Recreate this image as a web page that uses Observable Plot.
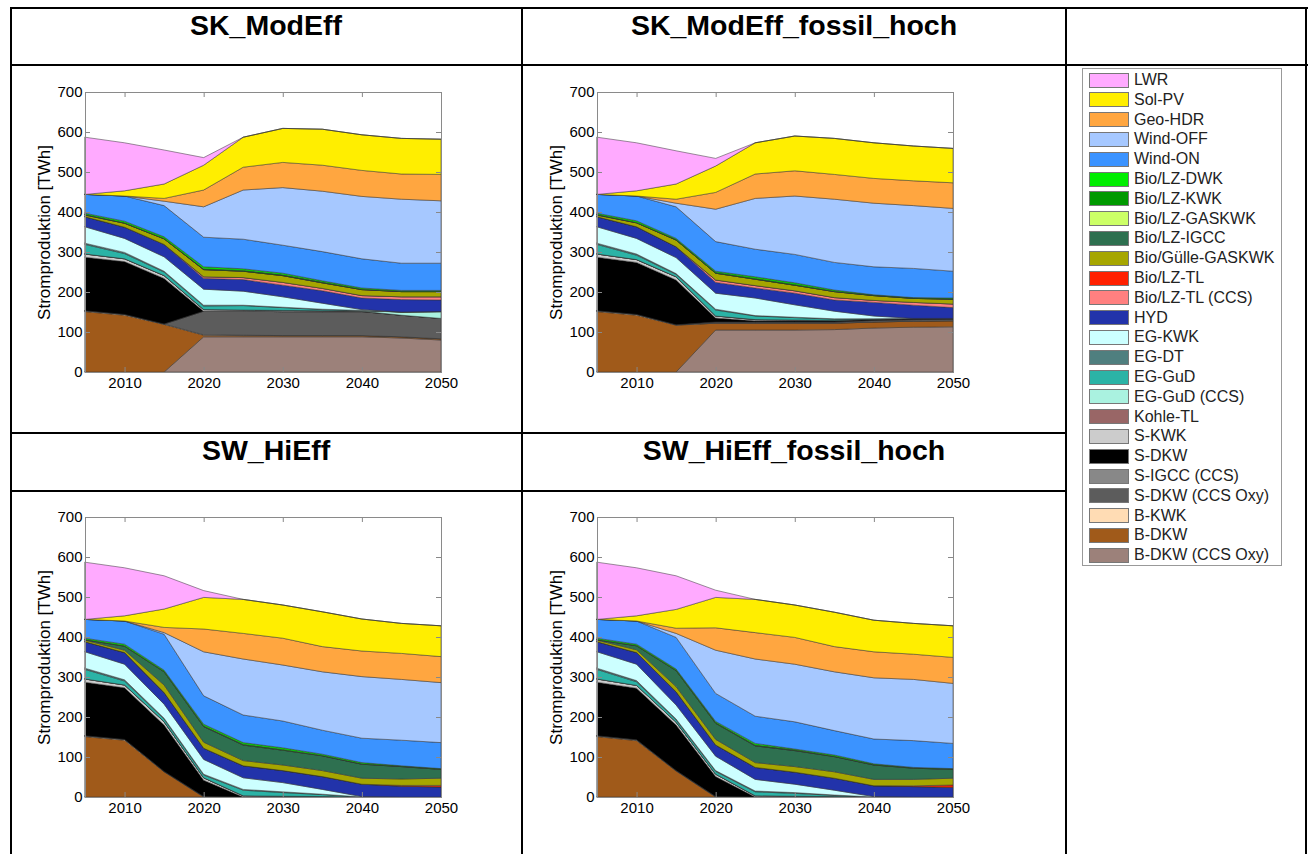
<!DOCTYPE html>
<html><head><meta charset="utf-8">
<script src="https://cdn.jsdelivr.net/npm/d3@7"></script>
<script src="https://cdn.jsdelivr.net/npm/@observablehq/plot@0.6"></script>
<style>
body{margin:0;background:#fff;font-family:"Liberation Sans",Arial,sans-serif;}
#page{position:relative;width:1310px;height:854px;overflow:hidden;background:#fff;}
.hl{position:absolute;height:2px;background:#000;}
.vl{position:absolute;width:2px;background:#000;}
.title{position:absolute;font-weight:bold;font-size:28.5px;line-height:30px;text-align:center;color:#000;}
.chart{position:absolute;}
#legend{position:absolute;left:1082px;top:68px;width:200px;height:498px;border:1px solid #999;box-sizing:border-box;background:#fff;}
.item{position:absolute;left:6px;height:20px;display:flex;align-items:center;font-size:16px;color:#222;white-space:nowrap;}
.sw{width:38px;height:13px;border:1px solid #777;margin-right:5px;}
</style></head>
<body><div id="page"></div>
<script>
const years = [2005, 2010, 2015, 2020, 2025, 2030, 2035, 2040, 2045, 2050];
const xTicks = [2010, 2020, 2030, 2040, 2050];
const yTicks = [0, 100, 200, 300, 400, 500, 600, 700];
const yLabel = "Stromproduktion [TWh]";
const chartTitles = ["SK_ModEff", "SK_ModEff_fossil_hoch", "SW_HiEff", "SW_HiEff_fossil_hoch"];

// stacking order: bottom -> top
const seriesNames = [
  "B-DKW (CCS Oxy)", "B-DKW", "B-KWK", "S-DKW (CCS Oxy)", "S-IGCC (CCS)", "S-DKW", "S-KWK",
  "Kohle-TL", "EG-GuD (CCS)", "EG-GuD", "EG-DT", "EG-KWK", "HYD", "Bio/LZ-TL (CCS)", "Bio/LZ-TL",
  "Bio/Gülle-GASKWK", "Bio/LZ-IGCC", "Bio/LZ-GASKWK", "Bio/LZ-KWK", "Bio/LZ-DWK",
  "Wind-ON", "Wind-OFF", "Geo-HDR", "Sol-PV", "LWR"
];
const seriesColors = [
  "#9c817a", "#a05a1a", "#ffdcb4", "#5c5c5c", "#888888", "#000000", "#cccccc",
  "#996666", "#aaf2e0", "#2bb3a6", "#4f7f7f", "#ccffff", "#2233aa", "#ff8080", "#ff2000",
  "#a6a600", "#2e7050", "#ccff66", "#009900", "#00ee00",
  "#3b93ff", "#a6c8ff", "#ffa640", "#ffee00", "#ffaaff"
];

const zero = [0, 0, 0, 0, 0, 0, 0, 0, 0, 0];

// SK_ModEff
const skModEff = [
  [0, 0, 0, 88, 88, 88, 88, 88, 85, 80],
  [151, 142, 119, 4, 3, 3, 3, 3, 3, 3],
  [2, 2, 1, 1, 1, 0, 0, 0, 0, 0],
  [0, 0, 0, 59, 60, 60, 60, 60, 54, 51],
  zero,
  [134, 132, 114, 0, 0, 0, 0, 0, 0, 0],
  [8, 7, 7, 4, 3, 3, 2, 1, 0, 0],
  zero,
  [0, 0, 0, 0, 0, 0, 0, 1, 8, 17],
  [24, 13, 9, 9, 11, 7, 3, 1, 0, 0],
  [3, 3, 2, 2, 1, 1, 1, 0, 0, 0],
  [41, 35, 36, 40, 35, 26, 15, 2, 0, 0],
  [25, 28, 31, 27, 29, 29, 31, 29, 31, 29],
  [0, 0, 0, 4, 5, 7, 6, 6, 7, 8],
  zero,
  [4, 10, 14, 18, 16, 17, 14, 15, 13, 13],
  [1, 0, 0, 0, 0, 0, 0, 0, 0, 0],
  zero,
  [1, 1, 1, 2, 2, 2, 2, 1, 1, 1],
  [3, 4, 4, 5, 4, 4, 3, 3, 2, 2],
  [47, 63, 78, 74, 74, 70, 73, 73, 68, 68],
  [0, 0, 11, 76, 123, 144, 151, 156, 160, 156],
  [0, 0, 7, 42, 57, 63, 65, 65, 63, 66],
  [0, 13, 36, 62, 75, 85, 90, 89, 89, 88],
  [143, 120, 85, 19, 0, 0, 0, 0, 0, 0]
];

// SK_ModEff_fossil_hoch
const skModEffFossil = [
  [0, 0, 0, 105, 105, 105, 106, 110, 112, 113],
  [151, 142, 117, 17, 17, 17, 16, 15, 15, 15],
  [2, 2, 1, 0, 0, 0, 0, 0, 0, 0],
  [0, 0, 0, 3, 3, 3, 3, 4, 4, 4],
  zero,
  [134, 130, 112, 10, 3, 3, 3, 3, 3, 2],
  [8, 7, 8, 5, 3, 2, 1, 0, 0, 0],
  zero,
  zero,
  [24, 11, 6, 15, 9, 6, 3, 1, 0, 0],
  [3, 3, 2, 2, 1, 1, 1, 0, 0, 0],
  [41, 39, 40, 40, 44, 31, 19, 7, 0, 0],
  [25, 29, 27, 27, 25, 29, 28, 34, 33, 27],
  [0, 0, 0, 6, 6, 6, 6, 5, 7, 9],
  zero,
  [4, 10, 17, 17, 16, 14, 15, 12, 10, 12],
  [1, 0, 0, 0, 0, 0, 0, 0, 0, 0],
  zero,
  [1, 1, 1, 2, 2, 2, 1, 1, 1, 1],
  [3, 4, 3, 3, 4, 4, 3, 1, 1, 2],
  [47, 62, 79, 74, 69, 71, 69, 70, 73, 67],
  [0, 0, 9, 81, 127, 146, 158, 159, 157, 157],
  [0, 0, 10, 42, 61, 63, 62, 62, 62, 64],
  [0, 13, 38, 66, 78, 87, 90, 89, 87, 86],
  [143, 120, 83, 19, 0, 0, 0, 0, 0, 0]
];

// SW_HiEff
const swHiEff = [
  zero,
  [151, 142, 63, 0, 0, 0, 0, 0, 0, 0],
  [2, 2, 1, 1, 0, 0, 0, 0, 0, 0],
  zero,
  zero,
  [134, 129, 116, 41, 0, 0, 0, 0, 0, 0],
  [8, 7, 8, 6, 3, 2, 1, 0, 0, 0],
  zero,
  zero,
  [24, 10, 7, 7, 14, 9, 5, 0, 0, 0],
  [3, 3, 2, 2, 2, 2, 1, 0, 0, 0],
  [41, 39, 35, 37, 29, 23, 12, 1, 0, 0],
  [25, 29, 29, 28, 30, 30, 32, 31, 27, 25],
  zero,
  [0, 0, 0, 0, 0, 0, 0, 0, 2, 4],
  [4, 6, 19, 15, 13, 14, 15, 15, 16, 18],
  [1, 10, 33, 39, 39, 37, 37, 35, 31, 22],
  zero,
  [1, 1, 1, 2, 2, 2, 1, 1, 1, 1],
  [3, 4, 3, 4, 4, 4, 3, 3, 1, 1],
  [47, 58, 90, 71, 69, 67, 60, 61, 64, 65],
  [0, 0, 4, 110, 140, 140, 146, 154, 152, 150],
  [0, 0, 13, 57, 64, 67, 63, 64, 65, 65],
  [0, 13, 46, 79, 85, 83, 87, 80, 75, 77],
  [143, 120, 83, 17, 0, 0, 0, 0, 0, 0]
];

// SW_HiEff_fossil_hoch
const swHiEffFossil = [
  zero,
  [151, 141, 65, 0, 0, 0, 0, 0, 0, 0],
  [2, 2, 1, 1, 0, 0, 0, 0, 0, 0],
  zero,
  zero,
  [134, 129, 114, 50, 0, 0, 0, 0, 0, 0],
  [8, 7, 7, 6, 3, 2, 1, 0, 0, 0],
  zero,
  zero,
  [24, 9, 6, 7, 10, 7, 3, 0, 0, 0],
  [3, 3, 2, 2, 2, 2, 1, 0, 0, 0],
  [41, 41, 35, 36, 29, 21, 12, 1, 0, 0],
  [25, 29, 33, 28, 30, 30, 30, 27, 26, 24],
  zero,
  [0, 0, 0, 0, 0, 0, 0, 0, 2, 6],
  [4, 7, 13, 14, 12, 14, 16, 16, 16, 17],
  [1, 10, 40, 40, 42, 40, 38, 36, 28, 22],
  zero,
  [1, 1, 1, 2, 2, 2, 1, 1, 1, 1],
  [3, 3, 3, 3, 4, 2, 3, 2, 1, 1],
  [47, 58, 79, 70, 68, 68, 61, 62, 67, 63],
  [0, 0, 10, 108, 143, 144, 147, 153, 153, 150],
  [0, 0, 13, 56, 66, 67, 63, 65, 63, 65],
  [0, 13, 47, 76, 83, 81, 86, 79, 77, 79],
  [143, 120, 84, 18, 0, 0, 0, 0, 0, 0]
];

const chartData = [skModEff, skModEffFossil, swHiEff, swHiEffFossil];

const page = document.getElementById("page");

function addDiv(cls, style, text) {
  const d = document.createElement("div");
  d.className = cls;
  Object.assign(d.style, style);
  if (text != null) d.textContent = text;
  page.appendChild(d);
  return d;
}

// table grid
[7, 64].forEach(y => addDiv("hl", {left: "10px", top: y + "px", width: "1298px"}));
[432, 490].forEach(y => addDiv("hl", {left: "10px", top: y + "px", width: "1057px"}));
[10, 521, 1065, 1305].forEach(x => addDiv("vl", {left: x + "px", top: "7px", height: "860px"}));

// titles
const cellCenters = [266, 794];
const titleTops = [10, 435];
chartTitles.forEach((t, i) => {
  const cx = cellCenters[i % 2], ty = titleTops[Math.floor(i / 2)];
  addDiv("title", {left: (cx - 250) + "px", width: "500px", top: ty + "px"}, t);
});

function toRows(values) {
  const rows = [];
  seriesNames.forEach((s, i) => years.forEach((yr, j) => rows.push({series: s, year: yr, value: values[i][j]})));
  return rows;
}

const W = 440, H = 320, ML = 65, MR = 19, MT = 12, MB = 28;
const innerH = H - MT - MB, innerW = W - ML - MR;
const chartPos = [[20, 80], [532, 80], [20, 505], [532, 505]];

chartData.forEach((vals, i) => {
  const rows = toRows(vals);
  const svg = Plot.plot({
    width: W, height: H,
    marginLeft: ML, marginRight: MR, marginTop: MT, marginBottom: MB,
    x: {domain: [2005, 2050], label: null},
    y: {domain: [0, 700], label: null},
    color: {domain: seriesNames, range: seriesColors},
    style: {fontFamily: "'Liberation Sans', Arial, sans-serif", fontSize: "15px", color: "#000", background: "transparent", overflow: "visible"},
    marks: [
      Plot.areaY(rows, {x: "year", y: "value", z: "series", fill: "series", stroke: "#333", strokeWidth: 0.5, order: null}),
      Plot.tickX(xTicks, {x: d => d, insetTop: innerH - 5, stroke: "#888"}),
      Plot.tickX(xTicks, {x: d => d, insetBottom: innerH - 5, stroke: "#888"}),
      Plot.tickY(yTicks, {y: d => d, insetRight: innerW - 5, stroke: "#888"}),
      Plot.tickY(yTicks, {y: d => d, insetLeft: innerW - 5, stroke: "#888"}),
      Plot.frame({stroke: "#8a8a8a"}),
      Plot.axisX({ticks: xTicks, tickSize: 0, tickPadding: 5, tickFormat: "d", fontSize: 15}),
      Plot.axisY({ticks: yTicks, tickSize: 0, tickPadding: 3, fontSize: 15}),
      Plot.text([yLabel], {text: d => d, frameAnchor: "left", textAnchor: "middle", rotate: -90, dx: -41, fontSize: 17})
    ]
  });
  const wrap = document.createElement("div");
  wrap.className = "chart";
  wrap.style.left = chartPos[i][0] + "px";
  wrap.style.top = chartPos[i][1] + "px";
  wrap.appendChild(svg);
  page.appendChild(wrap);
});

// legend (top -> bottom is the reverse of the stacking order)
const legend = document.createElement("div");
legend.id = "legend";
page.appendChild(legend);
const legendNames = seriesNames.slice().reverse();
const legendColors = seriesColors.slice().reverse();
legendNames.forEach((n, k) => {
  const it = document.createElement("div");
  it.className = "item";
  it.style.top = (1 + k * 19.8) + "px";
  const sw = document.createElement("div");
  sw.className = "sw";
  sw.style.background = legendColors[k];
  const tx = document.createElement("span");
  tx.textContent = n;
  it.appendChild(sw);
  it.appendChild(tx);
  legend.appendChild(it);
});
</script>
</body></html>
